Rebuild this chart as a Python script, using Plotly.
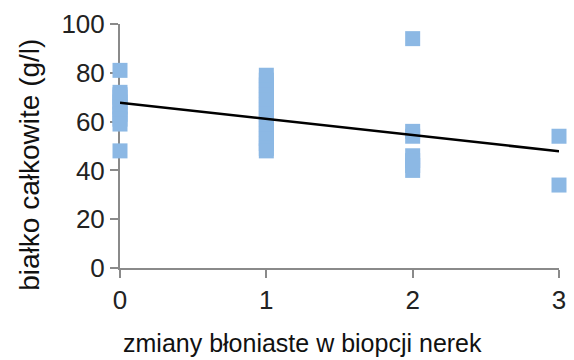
import numpy as np
import plotly.graph_objects as go

# Membranous changes score (x) and total protein in g/l (y)
grade_0 = [81, 72, 71, 70, 68, 66, 65, 63, 61, 59, 48]
grade_1 = [79, 77, 75, 73, 71, 69, 67, 65, 63, 61, 59, 57, 55, 53, 51, 49, 48]
grade_2 = [94, 56, 54, 46, 44, 42, 40]
grade_3 = [54, 34]

x_vals = [0] * len(grade_0) + [1] * len(grade_1) + [2] * len(grade_2) + [3] * len(grade_3)
y_vals = grade_0 + grade_1 + grade_2 + grade_3

x_ticks = [0, 1, 2, 3]
y_ticks = [0, 20, 40, 60, 80, 100]

x_title = "zmiany błoniaste w biopcji nerek"
y_title = "białko całkowite (g/l)"

# Least-squares trend line
slope, intercept = np.polyfit(x_vals, y_vals, 1)
trend_x = [0, 3]
trend_y = [intercept + slope * v for v in trend_x]

FONT = "Liberation Sans, Arial, sans-serif"

fig = go.Figure()
fig.add_trace(go.Scatter(
    x=x_vals, y=y_vals, mode="markers",
    marker=dict(symbol="square", size=15, color="#8CB8E4", line=dict(width=0)),
    cliponaxis=False, showlegend=False,
))
fig.add_trace(go.Scatter(
    x=trend_x, y=trend_y, mode="lines",
    line=dict(color="black", width=2.5),
    cliponaxis=False, showlegend=False,
))

axis_common = dict(
    showgrid=False, zeroline=False, showline=True, linecolor="#8a8a8a", linewidth=2,
    ticks="outside", ticklen=8, tickwidth=2, tickcolor="#8a8a8a",
    tickfont=dict(family=FONT, size=26, color="#222"),
    layer="below traces",
)

fig.update_layout(
    width=574, height=360,
    margin=dict(l=120, r=8, t=24, b=92),
    paper_bgcolor="white", plot_bgcolor="white",
    xaxis=dict(range=[0, 3], tickvals=x_ticks, **axis_common),
    yaxis=dict(range=[0, 100], tickvals=y_ticks, **axis_common),
    annotations=[
        dict(text=x_title, xref="paper", yref="paper", x=0.415, y=-0.307,
             xanchor="center", yanchor="middle", showarrow=False,
             font=dict(family=FONT, size=25, color="#111")),
        dict(text=y_title, xref="paper", yref="paper", x=-0.208, y=0.422,
             xanchor="center", yanchor="middle", showarrow=False, textangle=-90,
             font=dict(family=FONT, size=28, color="#111")),
    ],
)

fig.write_html("out.html")
